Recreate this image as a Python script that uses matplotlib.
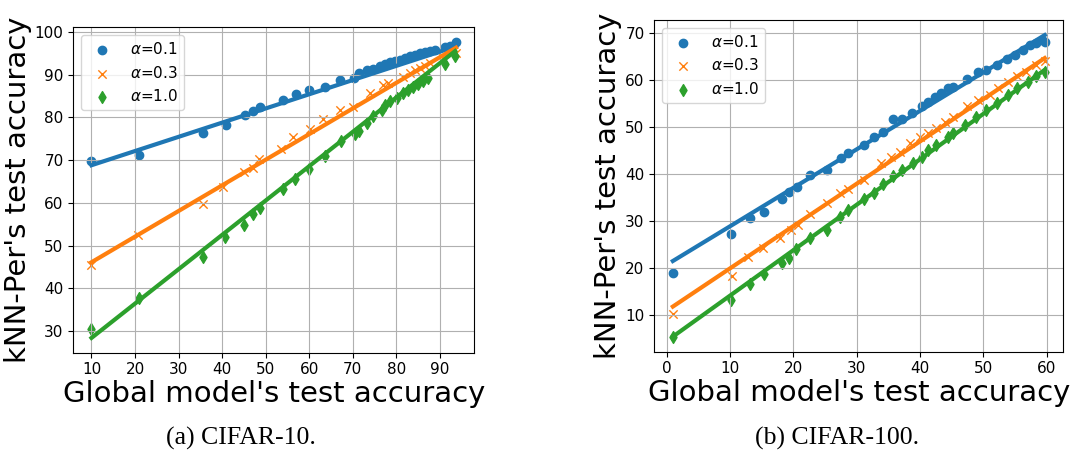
import matplotlib
matplotlib.use("Agg")
import matplotlib.pyplot as plt
from matplotlib.ticker import MultipleLocator

# CIFAR-10 (global acc -> kNN-Per acc)
c10_x_a01 = [10.0, 20.9, 35.6, 40.8, 45.2, 47.0, 48.7, 53.9, 56.9, 60.0, 63.6, 67.0, 70.3, 71.5,
             73.2, 74.7, 76.2, 77.4, 78.5, 79.7, 80.8, 82.0, 83.1, 84.3, 85.4, 86.6, 87.7, 88.9,
             91.2, 92.3, 93.7]
c10_y_a01 = [69.8, 71.3, 76.4, 78.3, 80.5, 81.6, 82.5, 84.0, 85.5, 86.4, 87.1, 88.7, 89.2, 90.4,
             91.0, 91.4, 92.0, 92.4, 92.9, 93.3, 93.5, 94.0, 94.3, 94.7, 95.1, 95.3, 95.5, 95.7,
             96.4, 96.8, 97.6]
c10_x_a03 = [10.0, 20.7, 35.6, 40.2, 45.1, 47.0, 48.5, 53.6, 56.3, 60.2, 63.2, 67.0, 70.1, 73.9,
             77.0, 78.1, 81.6, 83.1, 84.3, 85.4, 86.6, 87.7, 90.8, 93.7]
c10_y_a03 = [45.4, 52.4, 59.8, 63.7, 67.2, 68.2, 70.3, 72.5, 75.4, 77.2, 79.5, 81.7, 82.5, 85.7,
             87.5, 88.1, 89.5, 90.4, 91.0, 91.6, 92.1, 92.8, 93.9, 95.1]
c10_x_a10 = [10.0, 20.9, 35.6, 40.6, 45.1, 47.0, 48.7, 53.9, 56.7, 60.0, 63.6, 67.2, 70.5, 71.5,
             73.2, 74.7, 76.6, 77.4, 78.5, 80.1, 81.6, 82.7, 83.9, 85.0, 86.2, 87.3, 91.2, 93.5]
c10_y_a10 = [30.4, 37.8, 47.3, 52.0, 54.8, 57.3, 58.8, 63.3, 65.5, 68.0, 70.9, 74.4, 76.0, 76.8,
             78.7, 80.4, 81.8, 83.0, 83.8, 84.6, 85.7, 86.5, 87.1, 87.7, 88.5, 89.2, 92.4, 94.3]
# fitted line values at the first / last global accuracy
c10_fit_a01 = [68.8, 96.6]
c10_fit_a03 = [46.1, 96.3]
c10_fit_a10 = [28.4, 95.5]

# CIFAR-100
c100_x_a01 = [1.0, 10.2, 13.2, 15.4, 18.3, 19.3, 20.6, 22.6, 25.4, 27.6, 28.7, 31.1, 32.7, 34.2,
              35.7, 37.1, 38.8, 40.3, 41.3, 42.4, 43.4, 44.5, 45.3, 47.4, 49.2, 50.5, 52.1, 53.7,
              55.0, 56.3, 57.4, 58.4, 59.2, 59.7]
c100_y_a01 = [18.9, 27.2, 30.6, 32.0, 34.8, 36.1, 37.3, 39.8, 40.9, 43.5, 44.6, 46.2, 47.8, 49.0,
              51.7, 51.7, 53.1, 54.5, 55.4, 56.4, 57.2, 58.3, 58.6, 60.3, 61.8, 62.2, 63.3, 64.5,
              65.4, 66.4, 67.5, 68.0, 68.6, 68.2]
c100_x_a03 = [1.0, 10.3, 12.9, 15.3, 17.9, 19.7, 20.8, 22.7, 25.3, 27.4, 28.7, 31.1, 33.9, 35.5,
              36.8, 38.4, 40.0, 41.3, 42.6, 43.9, 45.3, 47.4, 49.2, 51.1, 52.4, 53.9, 55.3, 56.8,
              58.4, 59.7]
c100_y_a03 = [10.3, 18.3, 22.4, 24.2, 26.3, 28.1, 29.2, 31.6, 33.8, 35.9, 36.8, 38.8, 42.3, 43.7,
              44.8, 46.6, 48.0, 48.7, 49.8, 51.2, 52.2, 54.4, 55.8, 56.9, 58.3, 59.7, 60.8, 61.8,
              63.3, 64.0]
c100_x_a10 = [1.0, 10.2, 13.2, 15.4, 18.2, 19.3, 20.5, 22.6, 25.3, 27.4, 28.7, 31.1, 32.7, 34.2,
              35.7, 37.1, 38.9, 40.3, 41.3, 42.6, 44.5, 45.3, 47.1, 48.9, 50.5, 52.1, 53.9, 55.3,
              57.1, 58.4, 59.7]
c100_y_a10 = [5.4, 13.2, 16.7, 18.7, 21.1, 22.1, 24.0, 26.5, 28.2, 30.9, 32.4, 34.8, 35.9, 38.0,
              39.5, 40.9, 42.3, 43.7, 45.1, 46.2, 48.0, 48.7, 50.5, 52.2, 53.7, 55.1, 56.9, 58.3,
              59.7, 60.8, 61.8]
c100_fit_a01 = [21.5, 69.6]
c100_fit_a03 = [11.8, 64.7]
c100_fit_a10 = [5.4, 62.2]

alpha_labels = [r"$\alpha$=0.1", r"$\alpha$=0.3", r"$\alpha$=1.0"]
markers = ["o", "x", "d"]
colors = ["tab:blue", "tab:orange", "tab:green"]


def plot_panel(ax, xs, ys, fits):
    for x, y, fit, m, c, lab in zip(xs, ys, fits, markers, colors, alpha_labels):
        ax.scatter(x, y, marker=m, color=c, s=36, linewidths=1.0, label=lab)
        ax.plot([min(x), max(x)], fit, color=c, lw=3)
    ax.grid(True)
    ax.tick_params(labelsize=11)
    ax.xaxis.set_major_locator(MultipleLocator(10))
    ax.set_xlabel("Global model's test accuracy", fontsize=21, labelpad=2)
    ax.set_ylabel("kNN-Per's test accuracy", fontsize=21, labelpad=2)
    ax.legend(loc="upper left", fontsize=11)


fig = plt.figure(figsize=(10.87, 4.54), dpi=100)

ax1 = fig.add_axes([0.0674, 0.2231, 0.3689, 0.7167])
plot_panel(ax1, [c10_x_a01, c10_x_a03, c10_x_a10],
           [c10_y_a01, c10_y_a03, c10_y_a10],
           [c10_fit_a01, c10_fit_a03, c10_fit_a10])

ax2 = fig.add_axes([0.6019, 0.2253, 0.3763, 0.7306])
plot_panel(ax2, [c100_x_a01, c100_x_a03, c100_x_a10],
           [c100_y_a01, c100_y_a03, c100_y_a10],
           [c100_fit_a01, c100_fit_a03, c100_fit_a10])

fig.text(241 / 1087, 1 - 438 / 454, "(a) CIFAR-10.", ha="center", va="center",
         family="Liberation Serif", fontsize=18.5)
fig.text(837 / 1087, 1 - 438 / 454, "(b) CIFAR-100.", ha="center", va="center",
         family="Liberation Serif", fontsize=18.5)

fig.savefig("out.png", dpi=100)
